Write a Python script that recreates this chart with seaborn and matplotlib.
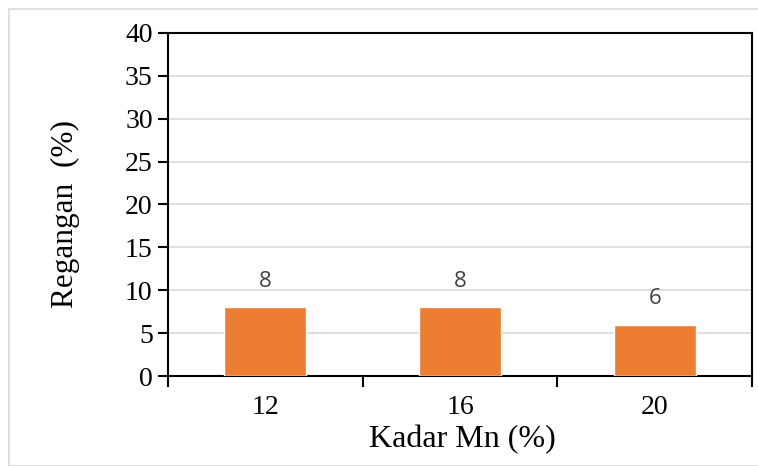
import matplotlib
matplotlib.use("Agg")
import matplotlib.pyplot as plt
import seaborn as sns
import pandas as pd
from matplotlib.patches import Rectangle

kadar_mn = ["12", "16", "20"]
regangan = [8, 8, 6]
y_ticks = [0, 5, 10, 15, 20, 25, 30, 35, 40]

df = pd.DataFrame({"Kadar Mn": kadar_mn, "Regangan": regangan})

sns.set_theme(style="white")
plt.rcParams["font.family"] = ["Liberation Serif", "DejaVu Serif"]
plt.rcParams["text.color"] = "black"
plt.rcParams["xtick.color"] = "black"
plt.rcParams["ytick.color"] = "black"
plt.rcParams["axes.labelcolor"] = "black"

fig = plt.figure(figsize=(7.58, 4.66), dpi=100)
ax = fig.add_axes([168 / 758, 1 - 376 / 466, (752 - 168) / 758, (376 - 33) / 466])

sns.barplot(data=df, x="Kadar Mn", y="Regangan", color="#ED7D31",
            saturation=1, width=0.42, ax=ax, zorder=3)

ax.set_ylim(0, 40)
ax.set_xlim(-0.5, 2.5)
ax.set_yticks(y_ticks)
ax.set_yticklabels([str(t) for t in y_ticks], fontsize=20)
ax.yaxis.grid(True, color="#D9D9D9", linewidth=1.2, zorder=0)
ax.set_axisbelow(True)

# category labels centred, tick marks between categories
ax.set_xticks([-0.5, 0.5, 1.5, 2.5])
ax.set_xticklabels([])
ax.set_xticks([0, 1, 2], minor=True)
ax.set_xticklabels(kadar_mn, minor=True, fontsize=20)
ax.tick_params(axis="x", which="major", direction="out", length=8, width=1.5, color="black", bottom=True)
ax.tick_params(axis="x", which="minor", length=0, pad=14)
ax.tick_params(axis="y", direction="out", length=7, width=1.5, color="black", left=True, pad=4)

for s in ax.spines.values():
    s.set_visible(True)
    s.set_color("black")
    s.set_linewidth(1.5)

ax.set_xlabel("Kadar Mn (%)", fontsize=23)
ax.xaxis.set_label_coords(0.504, -0.143)
ax.set_ylabel("Regangan  (%)", fontsize=22.5)
ax.yaxis.set_label_coords(-0.151, 0.472)

for i, v in enumerate(regangan):
    ax.annotate(str(v), (i, v), xytext=(0, 18.5), textcoords="offset points",
                ha="center", va="center", fontsize=16, color="#404040",
                family=["Open Sans", "DejaVu Sans"])

fig.patches.append(Rectangle((9 / 758, 0), 1, 1 - 9 / 466, transform=fig.transFigure,
                             fill=False, edgecolor="#D9D9D9", linewidth=1.2))

fig.savefig("out.png", dpi=100, facecolor="white")
